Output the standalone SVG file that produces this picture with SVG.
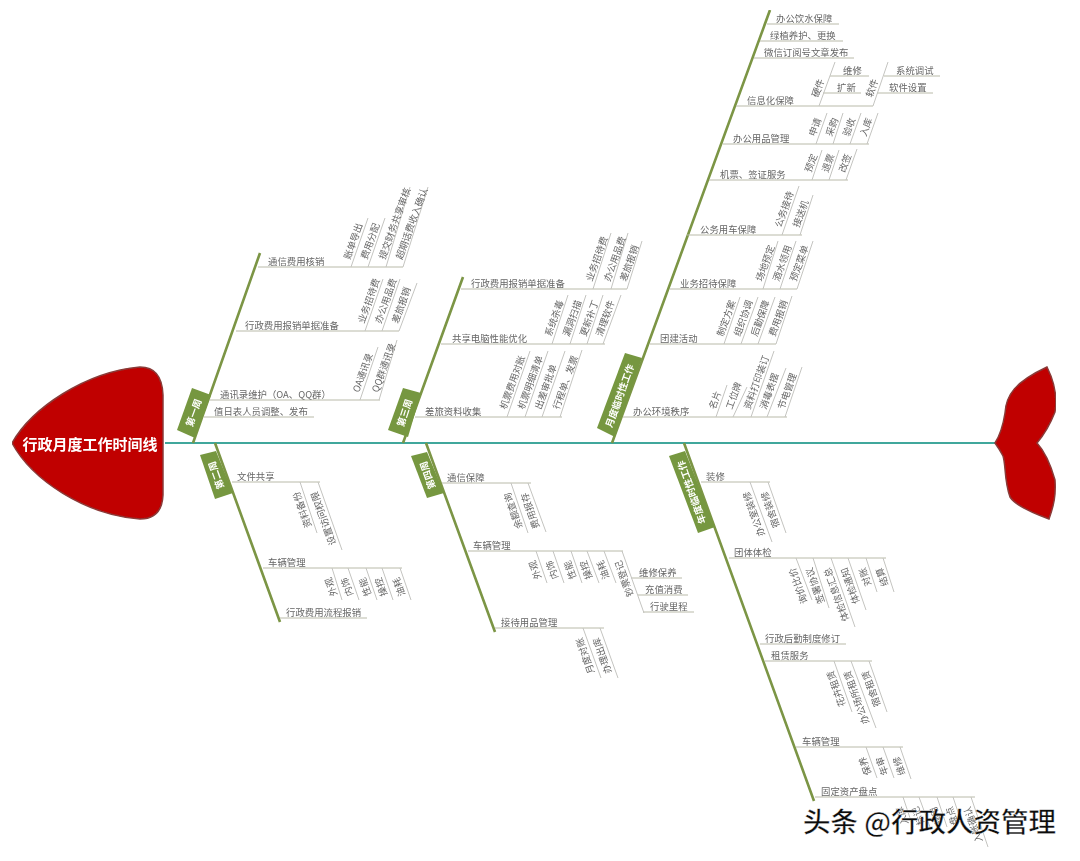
<svg xmlns="http://www.w3.org/2000/svg" width="1080" height="861" viewBox="0 0 1080 861">
<style>
text{font-family:"Noto Sans CJK SC","Liberation Sans",sans-serif}
.l{font-size:9.4px;fill:#666}
.tag{fill:#76973f}
.tt{font-size:9.5px;font-weight:700;fill:#fff;text-anchor:middle}
.e{text-anchor:end}
.bone{stroke:#7b9545;stroke-width:2.6;fill:none}
.h{stroke:#b9baa9;stroke-width:1;fill:none}
.s{stroke:#c4c4c0;stroke-width:1;fill:none}
.fish{fill:#c00000;stroke:#8a3a38;stroke-width:1.5}
</style>
<defs><filter id="soft" x="0" y="0" width="100%" height="100%"><feGaussianBlur stdDeviation="0.4"/></filter></defs>
<rect width="1080" height="861" fill="#fff"/>
<g filter="url(#soft)">
<g id="connectors">
<path d="M165 443H998" stroke="#3fa79c" stroke-width="2.2" fill="none"/>
<path class="bone" d="M193 443L260 253M403 443L463 277M612 443L770 10M215 443L280 622M426 443L495 632M684 443L814 801"/>
<path class="h" d="M258 267H403M236 331H399M209 400H380M204 417H314M461 289H627M441 344H605M415 417H562M767 24H839M760 41H843M754 58H854M736 106H873M830 76H869M823 93H861M884 76H940M877 93H933M723 144H869M709 180H848M687 235H802M670 289H797M650 344H776M623 417H787M232 482H320M263 568H402M280 618H367M442 483H531M468 551H623M631 578H682M638 595H688M643 612H694M495 628H604M701 482H770M729 558H886M760 644H846M765 661H872M796 747H903M815 797H975"/>
<path class="s" d="M351 267L368 218M368 267L385 218M386 267L410 187M403 267L428 187M365 331L383 279M382 331L400 279M399 331L417 283M360 400L378 347M379 400L397 340M593 289L611 233M611 289L628 233M627 289L642 241M552 344L568 295M570 344L586 295M587 344L603 295M603 344L621 295M507 417L530 351M525 417L548 351M542 417L565 351M560 417L582 350M819 106L835 62M873 106L888 62M816 144L827 113M833 144L843 113M850 144L861 113M867 144L878 113M812 180L822 150M829 180L839 150M846 180L857 149M782 235L799 186M800 235L813 195M763 289L778 241M780 289L796 241M797 289L813 241M724 344L740 297M741 344L758 297M758 344L775 297M776 344L792 296M716 417L727 385M733 417L747 387M751 417L774 351M767 417L786 368M785 417L802 367M300 482L317 533M318 482L342 550M332 568L342 600M348 568L359 600M366 568L377 600M382 568L393 600M400 568L411 600M511 483L528 533M528 483L546 532M536 551L547 583M553 551L564 583M571 551L582 583M587 551L599 583M604 551L616 583M622 551L644 613M583 628L601 678M600 628L618 678M750 482L772 542M768 482L786 533M796 558L812 600M813 558L829 608M831 558L855 627M848 558L866 610M866 558L877 592M883 558L894 592M834 661L852 712M851 661L876 728M869 661L887 712M866 747L877 778M883 747L894 778M900 747L911 779M903 797L913 827M919 797L930 827M937 797L947 827M953 797L963 827M971 797L988 847"/>
</g>
<g id="head"><path class="fish" d="M163 395Q162 367 140 367C85 372 32 408 12 443C32 480 85 515 140 519Q162 519 163 495Z"/><text x="90" y="450" text-anchor="middle" font-size="15" font-weight="700" fill="#fff">行政月度工作时间线</text></g>
<g id="tail"><path class="fish" d="M995 443Q1002 432 1005 413C1006 395 1015 382 1047 367C1056 385 1057 400 1055 412Q1048 430 1037 443Q1048 455 1055 480C1056 495 1054 505 1049 519C1030 512 1015 505 1010 497C1004 480 1006 465 1003 456Q1000 450 995 443Z"/></g>
<g id="t1"><path class="tag" d="M192 388L211 395L195 438L177 430Z"/><text class="tt" transform="translate(197,414) rotate(-70)">第一周</text></g>
<g id="t3"><path class="tag" d="M403 388L421 393L408 437L388 430Z"/><text class="tt" transform="translate(408,414) rotate(-72)">第三周</text></g>
<g id="t5"><path class="tag" d="M625 353L642 358L615 437L597 428Z"/><text class="tt" transform="translate(623,397) rotate(-70)">月度临时性工作</text></g>
<g id="t2"><path class="tag" d="M200 455L216 451L233 493L215 499Z"/><text class="tt" transform="translate(219.5,474) rotate(-110)">第二周</text></g>
<g id="t4"><path class="tag" d="M411 456L427 452L444 493L427 498Z"/><text class="tt" transform="translate(431,474) rotate(-110)">第四周</text></g>
<g id="t6"><path class="tag" d="M669 456L685 451L715 527L698 533Z"/><text class="tt" transform="translate(695,491) rotate(-110)">年度临时性工作</text></g>
<g id="n1" class="l"><text x="268" y="265">通信费用核销</text></g>
<g id="n2" class="l"><text transform="translate(350,260) rotate(-70)">账单导出</text></g>
<g id="n3" class="l"><text transform="translate(367,260) rotate(-70)">费用分配</text></g>
<g id="n4" class="l"><text transform="translate(385,260) rotate(-70)">提交财务共享审核</text></g>
<g id="n5" class="l"><text transform="translate(402,260) rotate(-70)">超期话费收入确认</text></g>
<g id="n6" class="l"><text x="245" y="329">行政费用报销单据准备</text></g>
<g id="n7" class="l"><text transform="translate(364,324) rotate(-70)">业务招待费</text></g>
<g id="n8" class="l"><text transform="translate(381,324) rotate(-70)">办公用品费</text></g>
<g id="n9" class="l"><text transform="translate(398,324) rotate(-70)">差旅报销</text></g>
<g id="n10" class="l"><text x="220" y="398">通讯录维护（OA、QQ群）</text></g>
<g id="n11" class="l"><text transform="translate(359,393) rotate(-70)">OA通讯录</text></g>
<g id="n12" class="l"><text transform="translate(378,393) rotate(-70)">QQ群通讯录</text></g>
<g id="n13" class="l"><text x="214" y="415">值日表人员调整、发布</text></g>
<g id="n14" class="l"><text x="471" y="287">行政费用报销单据准备</text></g>
<g id="n15" class="l"><text transform="translate(592,282) rotate(-70)">业务招待费</text></g>
<g id="n16" class="l"><text transform="translate(610,282) rotate(-70)">办公用品费</text></g>
<g id="n17" class="l"><text transform="translate(626,282) rotate(-70)">差旅报销</text></g>
<g id="n18" class="l"><text x="452" y="342">共享电脑性能优化</text></g>
<g id="n19" class="l"><text transform="translate(551,337) rotate(-70)">系统杀毒</text></g>
<g id="n20" class="l"><text transform="translate(569,337) rotate(-70)">漏洞扫描</text></g>
<g id="n21" class="l"><text transform="translate(586,337) rotate(-70)">更新补丁</text></g>
<g id="n22" class="l"><text transform="translate(602,337) rotate(-70)">清理软件</text></g>
<g id="n23" class="l"><text x="425" y="415">差旅资料收集</text></g>
<g id="n24" class="l"><text transform="translate(506,410) rotate(-70)">机票费用对账</text></g>
<g id="n25" class="l"><text transform="translate(524,410) rotate(-70)">机票明细清单</text></g>
<g id="n26" class="l"><text transform="translate(541,410) rotate(-70)">出差审批单</text></g>
<g id="n27" class="l"><text transform="translate(559,410) rotate(-70)">行程单、发票</text></g>
<g id="n28" class="l"><text x="776" y="22">办公饮水保障</text></g>
<g id="n29" class="l"><text x="770" y="39">绿植养护、更换</text></g>
<g id="n30" class="l"><text x="764" y="56">微信订阅号文章发布</text></g>
<g id="n31" class="l"><text x="747" y="104">信息化保障</text></g>
<g id="n32" class="l"><text transform="translate(818,98) rotate(-70)">硬件</text></g>
<g id="n33" class="l"><text x="843" y="74">维修</text></g>
<g id="n34" class="l"><text x="837" y="91">扩新</text></g>
<g id="n35" class="l"><text transform="translate(872,98) rotate(-70)">软件</text></g>
<g id="n36" class="l"><text x="896" y="74">系统调试</text></g>
<g id="n37" class="l"><text x="889" y="91">软件设置</text></g>
<g id="n38" class="l"><text x="733" y="142">办公用品管理</text></g>
<g id="n39" class="l"><text transform="translate(815,137) rotate(-70)">申请</text></g>
<g id="n40" class="l"><text transform="translate(832,137) rotate(-70)">采购</text></g>
<g id="n41" class="l"><text transform="translate(849,137) rotate(-70)">验收</text></g>
<g id="n42" class="l"><text transform="translate(866,137) rotate(-70)">入库</text></g>
<g id="n43" class="l"><text x="720" y="178">机票、签证服务</text></g>
<g id="n44" class="l"><text transform="translate(811,173) rotate(-70)">预定</text></g>
<g id="n45" class="l"><text transform="translate(828,173) rotate(-70)">退票</text></g>
<g id="n46" class="l"><text transform="translate(845,173) rotate(-70)">改签</text></g>
<g id="n47" class="l"><text x="700" y="233">公务用车保障</text></g>
<g id="n48" class="l"><text transform="translate(781,228) rotate(-70)">公务接待</text></g>
<g id="n49" class="l"><text transform="translate(799,228) rotate(-70)">接送机</text></g>
<g id="n50" class="l"><text x="680" y="287">业务招待保障</text></g>
<g id="n51" class="l"><text transform="translate(762,282) rotate(-70)">场地预定</text></g>
<g id="n52" class="l"><text transform="translate(779,282) rotate(-70)">酒水领用</text></g>
<g id="n53" class="l"><text transform="translate(796,282) rotate(-70)">预定菜单</text></g>
<g id="n54" class="l"><text x="660" y="342">团建活动</text></g>
<g id="n55" class="l"><text transform="translate(723,337) rotate(-70)">制定方案</text></g>
<g id="n56" class="l"><text transform="translate(740,337) rotate(-70)">组织协调</text></g>
<g id="n57" class="l"><text transform="translate(757,337) rotate(-70)">后勤保障</text></g>
<g id="n58" class="l"><text transform="translate(775,337) rotate(-70)">费用报销</text></g>
<g id="n59" class="l"><text x="633" y="415">办公环境秩序</text></g>
<g id="n60" class="l"><text transform="translate(715,410) rotate(-70)">名片</text></g>
<g id="n61" class="l"><text transform="translate(732,410) rotate(-70)">工位牌</text></g>
<g id="n62" class="l"><text transform="translate(750,410) rotate(-70)">资料打印装订</text></g>
<g id="n63" class="l"><text transform="translate(766,410) rotate(-70)">消毒表摆</text></g>
<g id="n64" class="l"><text transform="translate(784,410) rotate(-70)">节电管理</text></g>
<g id="n65" class="l"><text x="237" y="480">文件共享</text></g>
<g id="n66" class="l e"><text transform="translate(299,491) rotate(-110)">资料备份</text></g>
<g id="n67" class="l e"><text transform="translate(317,491) rotate(-110)">设置访问权限</text></g>
<g id="n68" class="l"><text x="268" y="566">车辆管理</text></g>
<g id="n69" class="l e"><text transform="translate(331,577) rotate(-110)">外观</text></g>
<g id="n70" class="l e"><text transform="translate(347,577) rotate(-110)">内饰</text></g>
<g id="n71" class="l e"><text transform="translate(365,577) rotate(-110)">性能</text></g>
<g id="n72" class="l e"><text transform="translate(381,577) rotate(-110)">操控</text></g>
<g id="n73" class="l e"><text transform="translate(399,577) rotate(-110)">油耗</text></g>
<g id="n74" class="l"><text x="286" y="616">行政费用流程报销</text></g>
<g id="n75" class="l"><text x="447" y="481">通信保障</text></g>
<g id="n76" class="l e"><text transform="translate(510,492) rotate(-110)">余额查询</text></g>
<g id="n77" class="l e"><text transform="translate(527,492) rotate(-110)">费用报存</text></g>
<g id="n78" class="l"><text x="473" y="549">车辆管理</text></g>
<g id="n79" class="l e"><text transform="translate(535,560) rotate(-110)">外观</text></g>
<g id="n80" class="l e"><text transform="translate(552,560) rotate(-110)">内饰</text></g>
<g id="n81" class="l e"><text transform="translate(570,560) rotate(-110)">性能</text></g>
<g id="n82" class="l e"><text transform="translate(586,560) rotate(-110)">操控</text></g>
<g id="n83" class="l e"><text transform="translate(603,560) rotate(-110)">油耗</text></g>
<g id="n84" class="l e"><text transform="translate(621,560) rotate(-110)">钞票登记</text></g>
<g id="n85" class="l"><text x="639" y="576">维修保养</text></g>
<g id="n86" class="l"><text x="645" y="593">充值消费</text></g>
<g id="n87" class="l"><text x="650" y="610">行驶里程</text></g>
<g id="n88" class="l"><text x="501" y="626">接待用品管理</text></g>
<g id="n89" class="l e"><text transform="translate(582,637) rotate(-110)">月度对账</text></g>
<g id="n90" class="l e"><text transform="translate(599,637) rotate(-110)">办理出库</text></g>
<g id="n91" class="l"><text x="706" y="480">装修</text></g>
<g id="n92" class="l e"><text transform="translate(749,491) rotate(-110)">办公室装修</text></g>
<g id="n93" class="l e"><text transform="translate(767,491) rotate(-110)">宿舍装修</text></g>
<g id="n94" class="l"><text x="734" y="556">团体体检</text></g>
<g id="n95" class="l e"><text transform="translate(795,567) rotate(-110)">询价比价</text></g>
<g id="n96" class="l e"><text transform="translate(812,567) rotate(-110)">签署协议</text></g>
<g id="n97" class="l e"><text transform="translate(830,567) rotate(-110)">体检信息汇总</text></g>
<g id="n98" class="l e"><text transform="translate(847,567) rotate(-110)">体检通知</text></g>
<g id="n99" class="l e"><text transform="translate(865,567) rotate(-110)">对账</text></g>
<g id="n100" class="l e"><text transform="translate(882,567) rotate(-110)">结算</text></g>
<g id="n101" class="l"><text x="765" y="642">行政后勤制度修订</text></g>
<g id="n102" class="l"><text x="771" y="659">租赁服务</text></g>
<g id="n103" class="l e"><text transform="translate(833,670) rotate(-110)">花卉租赁</text></g>
<g id="n104" class="l e"><text transform="translate(850,670) rotate(-110)">办公场所租赁</text></g>
<g id="n105" class="l e"><text transform="translate(868,670) rotate(-110)">宿舍租赁</text></g>
<g id="n106" class="l"><text x="802" y="745">车辆管理</text></g>
<g id="n107" class="l e"><text transform="translate(865,756) rotate(-110)">保养</text></g>
<g id="n108" class="l e"><text transform="translate(882,756) rotate(-110)">年审</text></g>
<g id="n109" class="l e"><text transform="translate(899,756) rotate(-110)">维修</text></g>
<g id="n110" class="l"><text x="821" y="795">固定资产盘点</text></g>
<g id="n111" class="l e"><text transform="translate(902,806) rotate(-110)">入库</text></g>
<g id="n112" class="l e"><text transform="translate(918,806) rotate(-110)">标记</text></g>
<g id="n113" class="l e"><text transform="translate(936,806) rotate(-110)">领用</text></g>
<g id="n114" class="l e"><text transform="translate(952,806) rotate(-110)">盘点</text></g>
<g id="n115" class="l e"><text transform="translate(970,806) rotate(-110)">入账确认</text></g>
</g>
<g id="watermark"><text x="803" y="832" font-size="27.5" font-weight="500" fill="#0c0c0c" stroke="#fff" stroke-width="0.3">头条 @行政人资管理</text></g>
</svg>
